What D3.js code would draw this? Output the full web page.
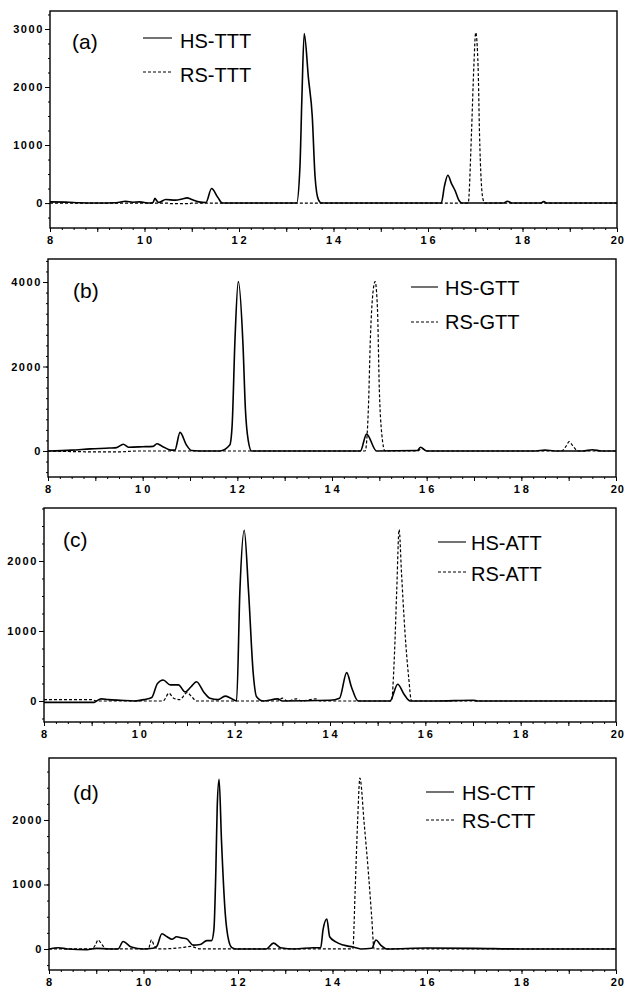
<!DOCTYPE html>
<meta charset="utf-8">
<style>
  body { margin: 0; background: #fff; }
  .trace { fill: none; stroke: #000; stroke-width: 1.6px; stroke-linejoin: round; }
  .trace.rs { stroke-width: 1.2px; stroke-dasharray: 3,2; }
  .frame { fill: none; stroke: #000; stroke-width: 1.4px; }
  .tick line { stroke: #000; stroke-width: 1px; }
  .ticklab { font: bold 11px "Liberation Sans", Arial, sans-serif; fill: #000; }
  .legend { font: 20px "Liberation Sans", Arial, sans-serif; fill: #000; }
  .plabel { font: 21px "Liberation Sans", Arial, sans-serif; fill: #000; }
</style>
<body>
<script src="https://cdnjs.cloudflare.com/ajax/libs/d3/7.8.5/d3.min.js"></script>
<script>
// x axis (retention time) tick labels, shared by all panels
var xTicks = [8, 10, 12, 14, 16, 18, 20];

var panelLabels = ["(a)", "(b)", "(c)", "(d)"];
var hsNames = ["HS-TTT", "HS-GTT", "HS-ATT", "HS-CTT"];
var rsNames = ["RS-TTT", "RS-GTT", "RS-ATT", "RS-CTT"];
var yTickLabels = [[0, 1000, 2000, 3000], [0, 2000, 4000], [0, 1000, 2000], [0, 1000, 2000]];

// traces: [time, signal]
var hsTTT = [[8,20],[8.4,15],[8.6,5],[9,0],[9.4,5],[9.6,30],[9.75,15],[9.9,20],[10.1,0],[10.18,10],[10.22,80],[10.26,40],
  [10.3,10],[10.45,60],[10.65,50],[10.8,70],[10.9,90],[11,60],[11.15,20],[11.3,10],[11.42,250],[11.55,100],[11.65,0],
  [13.22,0],[13.29,630],[13.33,1780],[13.38,2920],[13.47,2150],[13.55,1500],[13.61,450],[13.68,60],[13.75,0],
  [16.28,0],[16.35,300],[16.42,480],[16.5,330],[16.57,220],[16.66,40],[16.72,0],[17.6,0],[17.68,30],[17.78,0],
  [18.38,0],[18.45,25],[18.52,0],[20,0]];
var rsTTT = [[8,0],[10.5,0],[10.55,-10],[10.95,-10],[11,0],[16.85,0],[16.92,1200],[16.97,2350],[17.01,2940],
  [17.06,2350],[17.09,1200],[17.16,80],[17.2,0],[20,0]];

var hsGTT = [[8,0],[8.5,20],[8.9,50],[9.3,70],[9.45,80],[9.59,160],[9.7,90],[10,100],[10.22,110],[10.3,170],[10.4,120],
  [10.6,20],[10.68,20],[10.79,440],[10.92,150],[11.03,10],[11.2,0],[11.63,0],[11.84,140],[11.89,600],[11.95,2630],
  [12.02,4010],[12.12,2500],[12.17,1000],[12.23,250],[12.3,0],[14.6,0],[14.73,400],[14.94,0],[15.8,10],[15.87,90],
  [16,0],[18.3,0],[18.5,20],[18.7,0],[19.3,0],[19.5,30],[19.7,0],[20,0]];
var rsGTT = [[8,0],[9,-20],[9.5,-20],[9.9,0],[14.7,0],[14.77,1050],[14.81,2630],[14.88,3890],[14.91,4010],[14.96,3380],
  [15,1450],[15.05,420],[15.12,0],[15.8,0],[15.9,60],[16,0],[18.85,0],[18.95,120],[19.01,220],[19.1,100],[19.2,0],[20,0]];

var hsATT = [[8,-20],[9.05,-20],[9.1,0],[9.2,30],[9.35,20],[9.6,10],[9.9,0],[10.1,20],[10.26,50],[10.38,250],[10.5,300],
  [10.65,230],[10.82,230],[10.96,130],[11.08,200],[11.2,275],[11.35,130],[11.48,40],[11.65,20],[11.8,70],[11.92,40],
  [12.04,0],[12.11,1580],[12.2,2440],[12.29,1580],[12.39,390],[12.46,60],[12.6,0],[12.9,30],[13,0],[14,10],[14.2,40],
  [14.35,405],[14.45,200],[14.59,0],[15.26,0],[15.42,240],[15.55,100],[15.68,0],[16.2,0],[17,10],[17.1,0],[20,0]];
var rsATT = [[8,20],[9,20],[9.1,0],[10.5,0],[10.62,110],[10.72,40],[10.85,20],[11,120],[11.1,60],[11.2,0],[12.9,0],
  [13,40],[13.1,0],[13.3,30],[13.4,0],[13.7,30],[13.8,0],[15.29,0],[15.35,630],[15.4,1580],[15.45,2450],[15.5,1830],
  [15.57,1010],[15.65,340],[15.71,0],[20,0]];

var hsCTT = [[8,0],[8.2,20],[8.4,0],[8.8,-10],[9,10],[9.3,0],[9.46,0],[9.57,115],[9.74,30],[10,0],[10.2,10],[10.28,40],
  [10.39,235],[10.5,190],[10.6,150],[10.7,190],[10.82,170],[10.91,160],[11.05,60],[11.2,70],[11.34,130],[11.44,130],
  [11.49,300],[11.53,1180],[11.56,2200],[11.6,2630],[11.65,1690],[11.73,550],[11.8,140],[11.87,20],[11.95,0],[12.6,0],
  [12.75,90],[12.9,20],[13.2,0],[13.6,20],[13.75,20],[13.8,300],[13.88,465],[13.94,190],[14.07,110],[14.23,60],
  [14.43,30],[14.6,0],[14.83,10],[14.92,140],[15.02,60],[15.15,0],[16,15],[17,10],[18,0],[20,0]];
var rsCTT = [[8,0],[8.9,0],[8.98,60],[9.04,140],[9.1,90],[9.15,40],[9.2,0],[10.1,0],[10.17,140],[10.22,60],[10.3,0],
  [10.8,20],[11,40],[11.2,0],[14.43,0],[14.48,920],[14.53,1950],[14.58,2650],[14.67,1950],[14.76,1180],[14.83,490],
  [14.88,0],[20,0]];

var hsSeries = [hsTTT, hsGTT, hsATT, hsCTT];
var rsSeries = [rsTTT, rsGTT, rsATT, rsCTT];

// layout of each panel (pixels) and its visible signal range
var layout = [
  { left: 50, right: 617, top: 11,  bottom: 228, y0: -430, y1: 3310, lab: [72, 49],  leg: [143, 172, 180, 38, 72, 48, 82] },
  { left: 48, right: 616, top: 259, bottom: 477, y0: -616, y1: 4545, lab: [73, 298], leg: [411, 438, 445, 287, 322, 295, 329] },
  { left: 44, right: 616, top: 508, bottom: 722, y0: -300, y1: 2757, lab: [63, 547], leg: [438, 466, 471, 542, 572, 550, 581] },
  { left: 49, right: 616, top: 758, bottom: 970, y0: -326, y1: 2961, lab: [73, 800], leg: [426, 454, 462, 792, 820, 800, 828] }
];

var svg = d3.select("body").append("svg")
  .attr("width", 626).attr("height", 992);

layout.forEach(function (p, i) {
  var g = svg.append("g");
  var x = d3.scaleLinear().domain([8, 20]).range([p.left, p.right]);
  var y = d3.scaleLinear().domain([p.y0, p.y1]).range([p.bottom, p.top]);

  // clip so traces stay inside the frame
  g.append("clipPath").attr("id", "clip" + i)
    .append("rect").attr("x", p.left).attr("y", p.top)
    .attr("width", p.right - p.left).attr("height", p.bottom - p.top);

  // x axis: minor, medium and labelled ticks
  var noDomain = function (s) { s.select(".domain").remove(); };
  g.append("g").attr("transform", "translate(0," + p.bottom + ")")
    .call(d3.axisBottom(x).tickValues(d3.range(8, 20.001, 0.25)).tickSize(2).tickFormat(""))
    .call(noDomain);
  g.append("g").attr("transform", "translate(0," + p.bottom + ")")
    .call(d3.axisBottom(x).tickValues(d3.range(8, 20.001, 1)).tickSize(4).tickFormat(""))
    .call(noDomain);
  var last = xTicks[xTicks.length - 1];
  g.selectAll(".xlab").data(xTicks).enter().append("text")
    .attr("class", "ticklab")
    .attr("x", function (d) { return d === last ? 625 : x(d) + 1.5; })
    .attr("y", p.bottom + 16)
    .attr("text-anchor", function (d) { return d === last ? "end" : "middle"; })
    .style("letter-spacing", function (d) { return d === last ? "1px" : "3px"; })
    .text(function (d) { return d; });

  // y axis
  var minor = d3.range(Math.ceil(p.y0 / 250) * 250, p.y1, 250);
  g.append("g").attr("transform", "translate(" + p.left + ",0)")
    .call(d3.axisLeft(y).tickValues(minor).tickSize(2).tickFormat(""))
    .call(noDomain);
  g.append("g").attr("transform", "translate(" + p.left + ",0)")
    .call(d3.axisLeft(y).tickValues(yTickLabels[i]).tickSize(5).tickFormat(""))
    .call(noDomain);
  g.selectAll(".ylab").data(yTickLabels[i]).enter().append("text")
    .attr("class", "ticklab")
    .attr("x", p.left - 6)
    .attr("y", function (d) { return y(d) + 4; })
    .attr("text-anchor", "end")
    .style("letter-spacing", "1.6px")
    .text(function (d) { return d; });

  // traces
  var line = d3.line()
    .x(function (d) { return x(d[0]); })
    .y(function (d) { return y(d[1]); })
    .curve(d3.curveMonotoneX);
  g.append("path").datum(rsSeries[i]).attr("class", "trace rs")
    .attr("clip-path", "url(#clip" + i + ")").attr("d", line);
  g.append("path").datum(hsSeries[i]).attr("class", "trace")
    .attr("clip-path", "url(#clip" + i + ")").attr("d", line);

  // frame
  g.append("rect").attr("class", "frame")
    .attr("x", p.left).attr("y", p.top)
    .attr("width", p.right - p.left).attr("height", p.bottom - p.top);

  // panel label
  g.append("text").attr("class", "plabel")
    .attr("x", p.lab[0]).attr("y", p.lab[1]).text(panelLabels[i]);

  // legend
  var L = p.leg;
  g.append("line").attr("x1", L[0]).attr("x2", L[1]).attr("y1", L[3]).attr("y2", L[3])
    .attr("stroke", "#000").attr("stroke-width", 1.1);
  g.append("line").attr("x1", L[0]).attr("x2", L[1]).attr("y1", L[4]).attr("y2", L[4])
    .attr("stroke", "#000").attr("stroke-width", 1.1).attr("stroke-dasharray", "3,2");
  g.append("text").attr("class", "legend").attr("x", L[2]).attr("y", L[5]).text(hsNames[i]);
  g.append("text").attr("class", "legend").attr("x", L[2]).attr("y", L[6]).text(rsNames[i]);
});
</script>
</body>
